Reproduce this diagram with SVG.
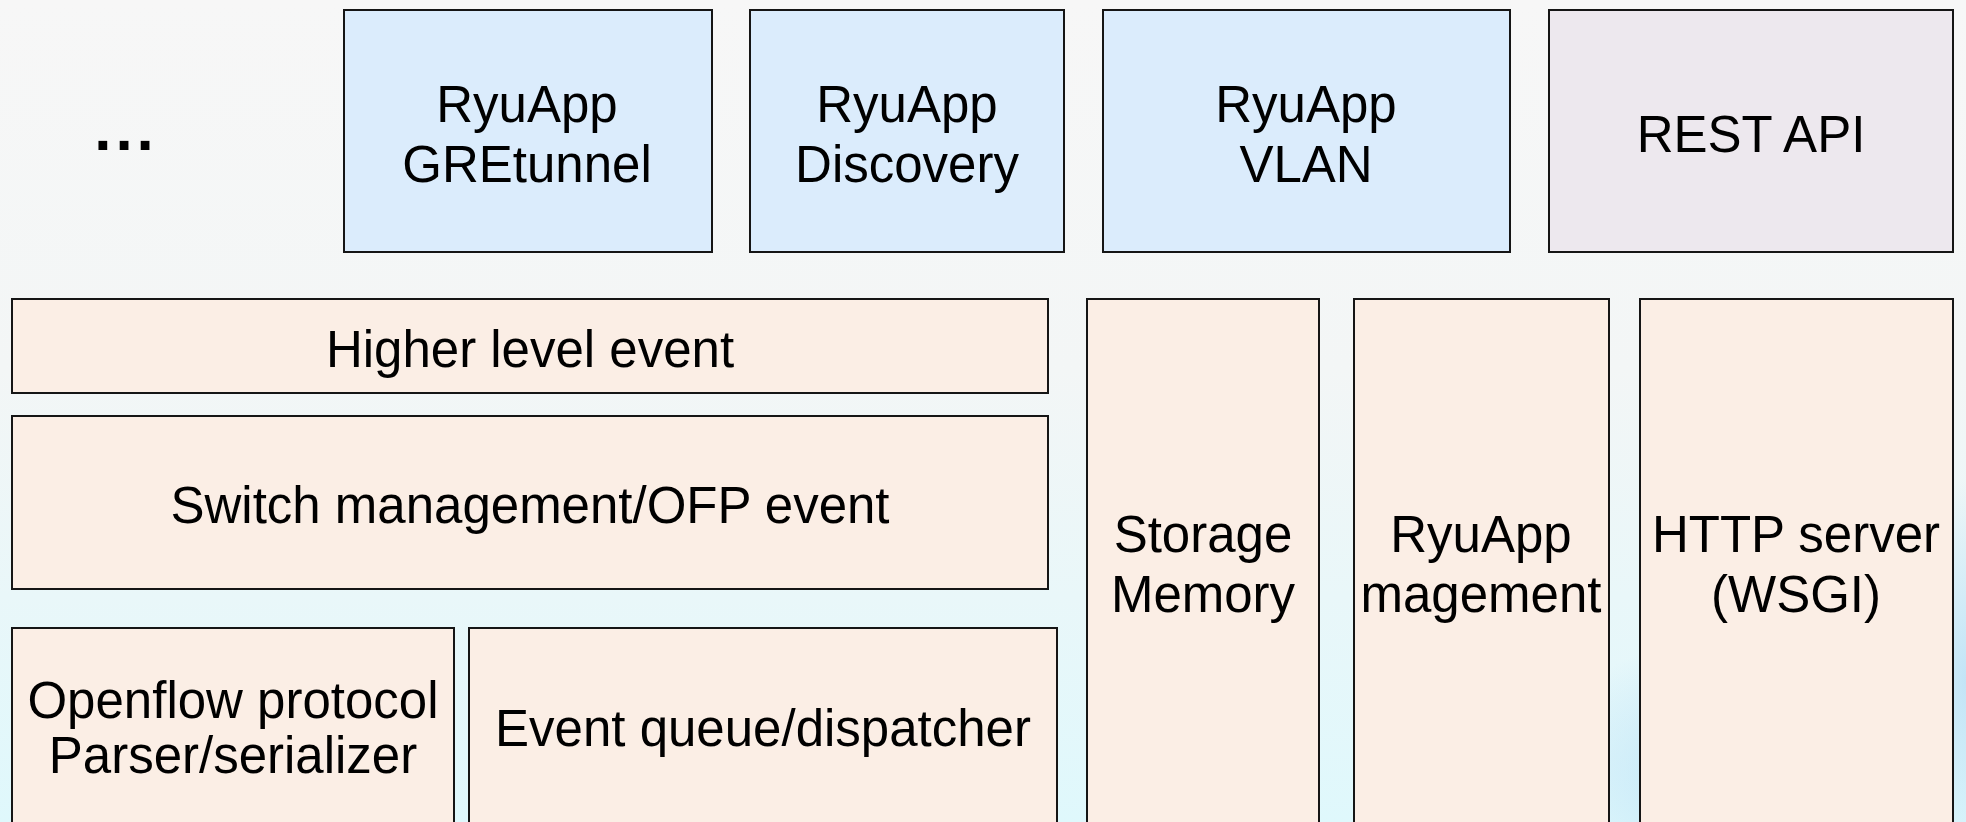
<svg xmlns="http://www.w3.org/2000/svg" width="1966" height="822" viewBox="0 0 1966 822">
  <defs>
    <linearGradient id="bg" x1="0" y1="0" x2="0" y2="1">
      <stop offset="0" stop-color="#f7f7f7"/>
      <stop offset="0.45" stop-color="#f3f6f6"/>
      <stop offset="1" stop-color="#dff8fc"/>
    </linearGradient>
    <radialGradient id="blob" cx="0.5" cy="0.5" r="0.5">
      <stop offset="0" stop-color="#b6def5" stop-opacity="0.75"/>
      <stop offset="1" stop-color="#b6def5" stop-opacity="0"/>
    </radialGradient>
    <style>
      .box { stroke: #151515; stroke-width: 2; }
      .app { fill: #dbecfc; }
      .rest { fill: #ede8ee; }
      .core { fill: #fbeee5; }
      text { font-family: "Liberation Sans", Arial, sans-serif; font-size: 51px; fill: #000; text-anchor: middle; }
      .dots { font-size: 62px; font-weight: bold; letter-spacing: 4px; }
    </style>
  </defs>
  <rect x="0" y="0" width="1966" height="822" fill="url(#bg)"/>
  <ellipse cx="1720" cy="770" rx="180" ry="130" fill="url(#blob)"/>
  <ellipse cx="1966" cy="680" rx="60" ry="200" fill="url(#blob)"/>

  <g id="ellipsis"><text class="dots" x="126" y="150">...</text></g>

  <g id="gretunnel">
    <rect class="box app" x="344" y="10" width="368" height="242"/>
    <text x="527" y="122">RyuApp</text>
    <text x="527" y="182">GREtunnel</text>
  </g>
  <g id="discovery">
    <rect class="box app" x="750" y="10" width="314" height="242"/>
    <text x="907" y="122">RyuApp</text>
    <text x="907" y="182">Discovery</text>
  </g>
  <g id="vlan">
    <rect class="box app" x="1103" y="10" width="407" height="242"/>
    <text x="1306" y="122">RyuApp</text>
    <text x="1306" y="182">VLAN</text>
  </g>
  <g id="restapi">
    <rect class="box rest" x="1549" y="10" width="404" height="242"/>
    <text x="1751" y="152">REST API</text>
  </g>

  <g id="higher-level-event">
    <rect class="box core" x="12" y="299" width="1036" height="94"/>
    <text x="530" y="367">Higher level event</text>
  </g>
  <g id="switch-management">
    <rect class="box core" x="12" y="416" width="1036" height="173"/>
    <text x="530" y="523">Switch management/OFP event</text>
  </g>
  <g id="openflow-parser">
    <rect class="box core" x="12" y="628" width="442" height="210"/>
    <text x="233" y="718">Openflow protocol</text>
    <text x="233" y="773">Parser/serializer</text>
  </g>
  <g id="event-queue">
    <rect class="box core" x="469" y="628" width="588" height="210"/>
    <text x="763" y="746">Event queue/dispatcher</text>
  </g>
  <g id="storage">
    <rect class="box core" x="1087" y="299" width="232" height="540"/>
    <text x="1203" y="552">Storage</text>
    <text x="1203" y="612">Memory</text>
  </g>
  <g id="ryuapp-management">
    <rect class="box core" x="1354" y="299" width="255" height="540"/>
    <text x="1481" y="552">RyuApp</text>
    <text x="1481" y="612">magement</text>
  </g>
  <g id="http-server">
    <rect class="box core" x="1640" y="299" width="313" height="540"/>
    <text x="1796" y="552">HTTP server</text>
    <text x="1796" y="612">(WSGI)</text>
  </g>

  <g id="connectors"></g>
</svg>
